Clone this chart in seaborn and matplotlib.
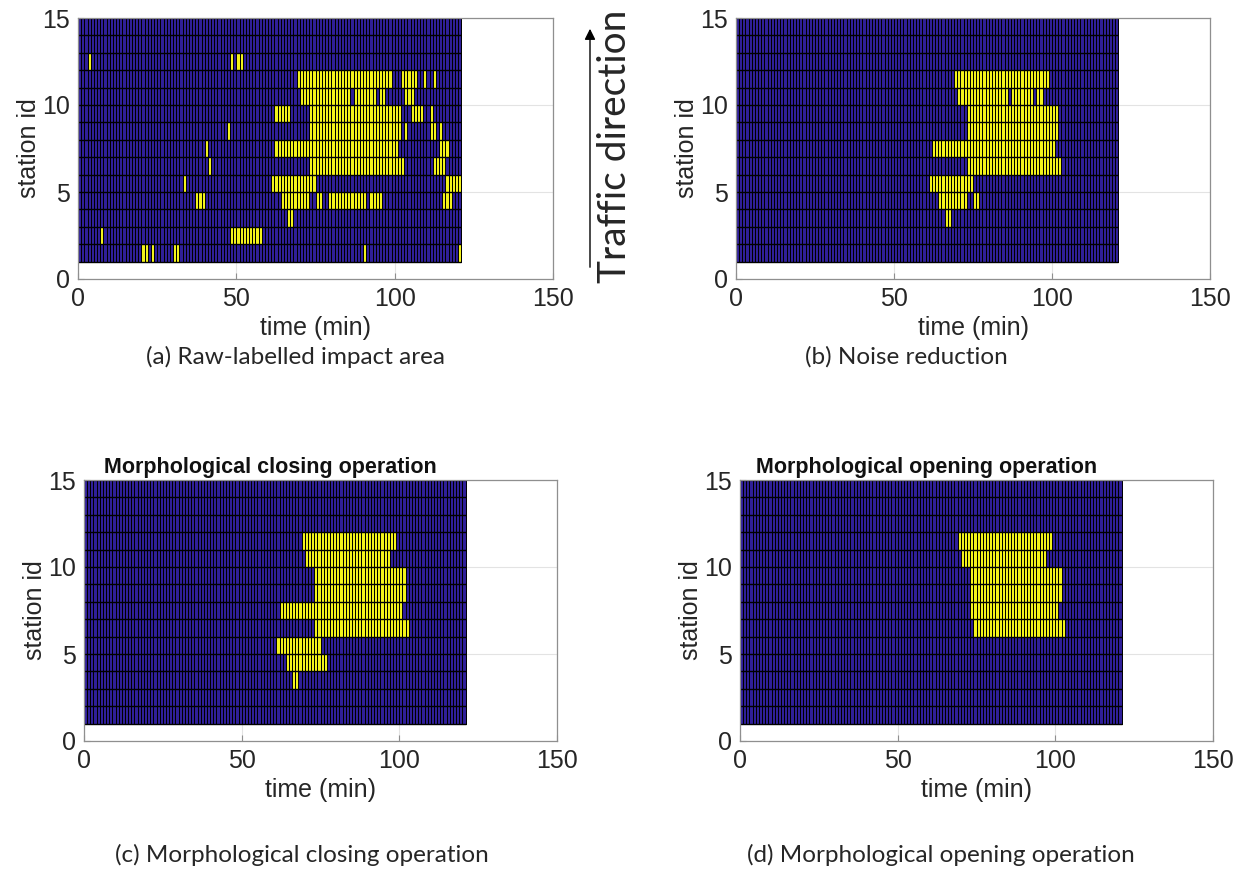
import numpy as np
import pandas as pd
import matplotlib
matplotlib.use("Agg")
import matplotlib.pyplot as plt
from matplotlib.colors import ListedColormap
import seaborn as sns

# yellow cells per station row: (first minute, end minute) segments
raw_segments = {
    12: [(3, 4), (48, 49), (50, 52)],
    11: [(69, 99), (102, 107), (109, 110), (112, 113)],
    10: [(70, 86), (87, 94), (95, 97), (103, 106)],
    9: [(62, 67), (73, 102), (105, 109), (111, 112)],
    8: [(47, 48), (73, 102), (103, 104), (111, 113), (114, 115)],
    7: [(40, 41), (62, 101), (114, 117)],
    6: [(41, 42), (73, 103), (112, 116)],
    5: [(33, 34), (61, 75), (116, 121)],
    4: [(37, 40), (64, 73), (75, 77), (79, 91), (92, 96), (115, 118)],
    3: [(66, 68)],
    2: [(7, 8), (48, 58)],
    1: [(20, 22), (23, 24), (30, 32), (90, 91), (120, 121)],
}
denoised_segments = {
    11: [(69, 99)],
    10: [(70, 86), (87, 94), (95, 97)],
    9: [(73, 102)],
    8: [(73, 102)],
    7: [(62, 101)],
    6: [(73, 103)],
    5: [(61, 75)],
    4: [(64, 73), (75, 77)],
    3: [(66, 68)],
}
closing_segments = {
    11: [(69, 99)],
    10: [(70, 97)],
    9: [(73, 102)],
    8: [(73, 102)],
    7: [(62, 101)],
    6: [(73, 103)],
    5: [(61, 75)],
    4: [(64, 77)],
    3: [(66, 68)],
}
opening_segments = {
    11: [(69, 99)],
    10: [(70, 97)],
    9: [(73, 102)],
    8: [(73, 102)],
    7: [(73, 101)],
    6: [(74, 103)],
}

n_minutes = 121
stations = list(range(1, 15))
minutes = list(range(n_minutes))

captions = ["(a) Raw-labelled impact area", "(b) Noise reduction",
            "(c) Morphological closing operation", "(d) Morphological opening operation"]
titles = ["", "", "Morphological closing operation", "Morphological opening operation"]
time_ticks = [0, 50, 100, 150]
station_ticks = [0, 5, 10, 15]


def to_frame(segments):
    grid = np.zeros((len(stations), n_minutes))
    for row, segs in segments.items():
        for s, e in segs:
            grid[stations.index(row), s:e] = 1
    return pd.DataFrame(grid, index=stations, columns=minutes)


sns.set_style("white")
plt.rcParams["font.family"] = ["Liberation Sans", "DejaVu Sans"]

W, H = 1241, 869
fig = plt.figure(figsize=(W / 100, H / 100), dpi=100)


def box(l, r, t, b):
    return [l / W, 1 - b / H, (r - l) / W, (b - t) / H]


axes = [
    fig.add_axes(box(78, 553, 18, 279)),
    fig.add_axes(box(736, 1210, 18, 279)),
    fig.add_axes(box(84, 557, 480, 741)),
    fig.add_axes(box(740, 1213, 480, 741)),
]
cmap = ListedColormap(["#2f1f99", "#f2f21a"])
# heatmap row k sits at [k, k+1]; station s is row s - first station
y0 = stations[0]

for ax, segs, title in zip(axes, [raw_segments, denoised_segments, closing_segments, opening_segments], titles):
    df = to_frame(segs)
    sns.heatmap(df, ax=ax, cmap=cmap, vmin=0, vmax=1, cbar=False,
                linewidths=0.4, linecolor="black", xticklabels=False, yticklabels=False)
    ax.hlines(np.arange(len(stations) + 1), 0, n_minutes, color="black", linewidth=1.0)
    ax.set_xlim(time_ticks[0], time_ticks[-1])
    ax.set_ylim(station_ticks[0] - y0, station_ticks[-1] - y0)
    ax.set_xticks(time_ticks)
    ax.set_xticklabels([str(t) for t in time_ticks])
    ax.set_yticks([s - y0 for s in station_ticks])
    ax.set_yticklabels([str(s) for s in station_ticks])
    for sp in ax.spines.values():
        sp.set_visible(True)
        sp.set_color("#8f8f8f")
        sp.set_linewidth(0.9)
    ax.set_axisbelow(True)
    ax.grid(True, color="#e3e3e3", linewidth=0.8)
    ax.tick_params(direction="in", length=4, color="#8f8f8f", labelcolor="#262626",
                   labelsize=18, pad=6, bottom=True, left=True)
    ax.set_xlabel("time (min)", fontsize=18, color="#262626", labelpad=3)
    ax.set_ylabel("station id", fontsize=18, color="#262626", labelpad=0.5)
    if title:
        ax.set_title(title, x=0.395, fontsize=15.5, fontweight="bold", color="#111111", pad=5)

cap_font = ["Lato", "DejaVu Sans"]
fig.text(295 / W, 1 - 357 / H, captions[0], ha="center", va="center", fontsize=17.5, family=cap_font)
fig.text(906 / W, 1 - 357 / H, captions[1], ha="center", va="center", fontsize=17.5, family=cap_font)
fig.text(302 / W, 1 - 855 / H, captions[2], ha="center", va="center", fontsize=17.5, family=cap_font)
fig.text(941 / W, 1 - 855 / H, captions[3], ha="center", va="center", fontsize=17.5, family=cap_font)

fig.text(615 / W, 1 - 146 / H, "Traffic direction", rotation=90, ha="center", va="center",
         fontsize=28, family=cap_font)
axes[0].annotate("", xy=(590 / W, 1 - 26 / H), xytext=(590 / W, 1 - 270 / H),
                 xycoords="figure fraction", textcoords="figure fraction", annotation_clip=False,
                 arrowprops=dict(arrowstyle="-|>", color="black", lw=1, mutation_scale=16))

fig.savefig("out.png", dpi=100)
